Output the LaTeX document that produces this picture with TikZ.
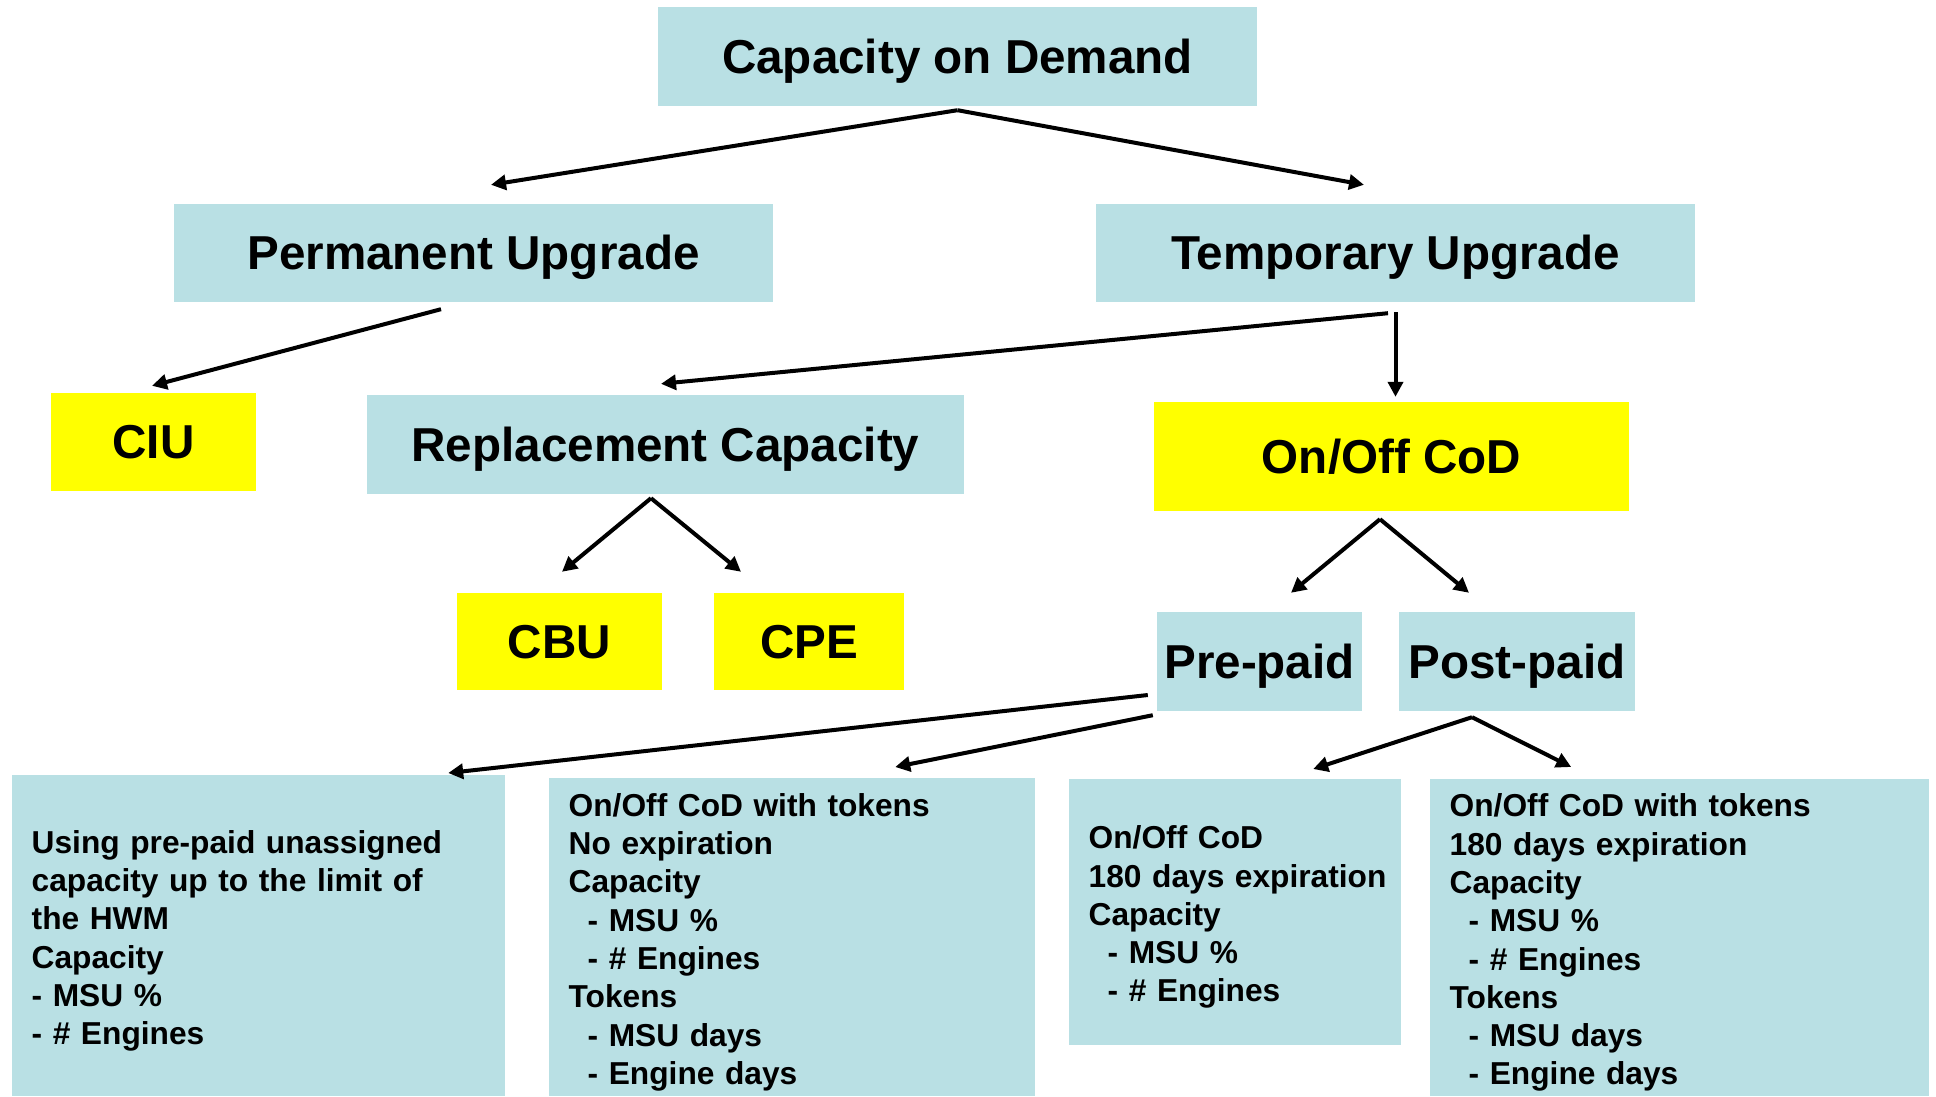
\documentclass[tikz,border=0pt]{standalone}
\usepackage{fontspec}
\setmainfont{Liberation Sans}
\usepackage{tikz}
\usetikzlibrary{arrows.meta}
\definecolor{codblue}{RGB}{185,224,228}
\definecolor{codyellow}{RGB}{255,255,0}
\tikzstyle{graph}=[x=1pt, y=-1pt]
\tikzstyle{head}=[rectangle, fill=codblue, inner sep=0pt, font=\fontsize{47.6}{57}\selectfont\bfseries, text height=43pt, text depth=10pt]
\tikzstyle{prod}=[head, fill=codyellow]
\tikzstyle{info}=[rectangle, fill=codblue, anchor=north west, inner xsep=19.5pt, inner ysep=0pt, align=left, font=\fontsize{31.7}{38.3}\selectfont\bfseries, execute at begin node={\rule{0pt}{33pt}}]
\tikzstyle{edge}=[line width=4pt, -{Triangle[length=15pt, width=15pt]}]
\newcommand{\ind}{\hspace*{19pt}}

\begin{document}
\begin{tikzpicture}[graph]
	\useasboundingbox (0,0) rectangle (1936,1096);
	\draw (957.5,56.5) node[head, minimum width=599pt, minimum height=99pt] (cod) {Capacity on Demand};
	\draw (473.5,253) node[head, minimum width=599pt, minimum height=98pt] (perm) {Permanent Upgrade};
	\draw (1395.5,253) node[head, minimum width=599pt, minimum height=98pt] (temp) {Temporary Upgrade};
	\draw (153.5,442) node[prod, minimum width=205pt, minimum height=98pt] (ciu) {CIU};
	\draw (665.5,444.5) node[head, minimum width=597pt, minimum height=99pt] (repl) {Replacement Capacity};
	\draw (1391.5,456.5) node[prod, minimum width=475pt, minimum height=109pt] (onoff) {On/Off CoD};
	\draw (559.5,641.5) node[prod, minimum width=205pt, minimum height=97pt] (cbu) {CBU};
	\draw (809,641.5) node[prod, minimum width=190pt, minimum height=97pt] (cpe) {CPE};
	\draw (1259.5,661.5) node[head, minimum width=205pt, minimum height=99pt] (pre) {Pre-paid};
	\draw (1517,661.5) node[head, minimum width=236pt, minimum height=99pt] (post) {Post-paid};
	% detail boxes
	\draw (12,775) node[info, text width=454pt, minimum height=321pt] (b1) {Using pre-paid unassigned\\capacity up to the limit of\\the HWM\\Capacity\\- MSU \%\\- \# Engines};
	\draw (549,778) node[info, text width=447pt, minimum height=318pt] (b2) {On/Off CoD with tokens\\No expiration\\Capacity\\\ind- MSU \%\\\ind- \# Engines\\Tokens\\\ind- MSU days\\\ind- Engine days};
	\draw (1069,779) node[info, text width=293pt, minimum height=266pt] (b3) {On/Off CoD\\\mbox{180 days expiration}\\Capacity\\\ind- MSU \%\\\ind- \# Engines};
	\draw (1430,779) node[info, text width=460pt, minimum height=317pt] (b4) {On/Off CoD with tokens\\180 days expiration\\Capacity\\\ind- MSU \%\\\ind- \# Engines\\Tokens\\\ind- MSU days\\\ind- Engine days};
	% arrows
	\draw[edge] ([shift={(0,4)}]cod.south) -- ([shift={(17.5,-19)}]perm.north);
	\draw[edge] ([shift={(0,4)}]cod.south) -- ([shift={(-31.5,-19)}]temp.north);
	\draw[edge] ([shift={(-32.5,7)}]perm.south) -- ([shift={(-1.5,-7)}]ciu.north);
	\draw[edge] ([shift={(-7.5,11)}]temp.south) -- ([shift={(-4.5,-11)}]repl.north);
	\draw[edge] ([shift={(0,10)}]temp.south) -- ([shift={(4,-5)}]onoff.north);
	\draw[edge] ([shift={(-14.5,4)}]repl.south) -- ([shift={(2.5,-21)}]cbu.north);
	\draw[edge] ([shift={(-14.5,4)}]repl.south) -- ([shift={(-68,-21)}]cpe.north);
	\draw[edge] ([shift={(-11.5,8)}]onoff.south) -- ([shift={(31.5,-19)}]pre.north);
	\draw[edge] ([shift={(-11.5,8)}]onoff.south) -- ([shift={(-48,-19)}]post.north);
	\draw[edge] ([shift={(-9,33.5)}]pre.west) -- ([shift={(189.5,-2)}]b1.north);
	\draw[edge] ([shift={(-4,4)}]pre.south west) -- ([shift={(103,-11)}]b2.north);
	\draw[edge] ([shift={(-45,6)}]post.south) -- ([shift={(78,-10)}]b3.north);
	\draw[edge] ([shift={(-45,6)}]post.south) -- ([shift={(-108.5,-12)}]b4.north);
\end{tikzpicture}
\end{document}
